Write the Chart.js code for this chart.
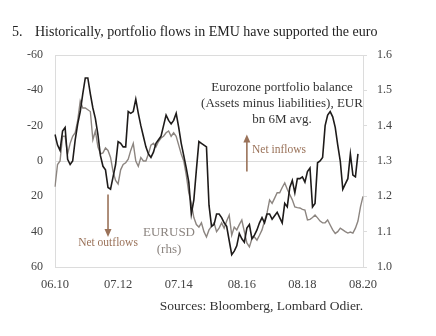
<!DOCTYPE html>
<html>
<head>
<meta charset="utf-8">
<script src="https://cdn.jsdelivr.net/npm/chart.js@4.4.0/dist/chart.umd.min.js"></script>
<style>
    html, body { margin: 0; padding: 0; background: #fff; }
    #wrap { width: 436px; height: 336px; }
</style>
</head>
<body>
<div id="wrap"><canvas id="flowsChart"></canvas></div>
<script>
// ----------------------------------------------------------------------
// Data (monthly, 06.2010 - 08.2020)
// ----------------------------------------------------------------------
const tickLabels = ['06.10', '07.12', '07.14', '08.16', '08.18', '08.20'];

// month labels MM.YY
const months = [];
for (let y = 2010, m = 6; y < 2020 || (y === 2020 && m <= 8); m++) {
    if (m > 12) { m = 1; y++; }
    if (y === 2020 && m > 8) break;
    months.push(String(m).padStart(2, '0') + '.' + String(y).slice(2));
}

// Eurozone portfolio balance, EUR bn 6M avg (lhs, inverted)
const portfolioBalance = [
    -15, -9, -6, -17, -19, -1, 2, 0, -12, -21,
    -28, -38, -47, -47, -38, -30, -24, -15, -3, 3,
    5, 15, 16, 9, 2, -11, -10, -8, -8, -28,
    -27, -28, -35, -27, -20, -14, -8, -4, -2, -5,
    -10, -12, -14, -20, -26, -23, -21, -23, -27, -19,
    -10, -3, 4, 12, 30, 22, 5, -11, -10, -9,
    -8, 25, 37, 36, 30, 30, 32, 35, 37, 45,
    53, 51, 48, 41, 44, 46, 38, 36, 44, 42,
    39, 35, 32, 35, 30, 30, 33, 31, 29, 32,
    35, 24, 26, 15, 11, 18, 10, 10, 9, 12,
    6, 4, 26, 24, 1, 0, -2, -20, -26, -28,
    -25, -19, -9, 0, 16, 13, 10, -4, 8, 9,
    -4, null, null
];

// EURUSD (rhs)
const eurusd = [
    1.227, 1.29, 1.30, 1.37, 1.37, 1.32, 1.35, 1.37, 1.38, 1.415,
    1.47, 1.45, 1.45, 1.445, 1.44, 1.36, 1.385, 1.34, 1.32, 1.323,
    1.337, 1.33, 1.31, 1.27, 1.245, 1.235, 1.275, 1.29, 1.295, 1.305,
    1.33, 1.35, 1.30, 1.285, 1.31, 1.30, 1.30, 1.32, 1.345, 1.35,
    1.34, 1.355, 1.365, 1.37, 1.38, 1.385, 1.37, 1.38, 1.37, 1.345,
    1.32, 1.30, 1.26, 1.21, 1.18, 1.14, 1.12, 1.113, 1.125, 1.10,
    1.085, 1.105, 1.115, 1.125, 1.10, 1.11, 1.125, 1.11, 1.13, 1.147,
    1.09, 1.113, 1.105, 1.12, 1.133, 1.10, 1.068, 1.057, 1.08, 1.085,
    1.076, 1.09, 1.105, 1.13, 1.153, 1.19, 1.18, 1.195, 1.21, 1.21,
    1.225, 1.238, 1.22, 1.205, 1.19, 1.17, 1.168, 1.167, 1.163, 1.161,
    1.133, 1.135, 1.14, 1.147, 1.139, 1.13, 1.125, 1.125, 1.133, 1.119,
    1.105, 1.095, 1.10, 1.11, 1.105, 1.10, 1.096, 1.099, 1.096, 1.11,
    1.13, 1.17, 1.20
];

const SERIF = '"Liberation Serif", "DejaVu Serif", serif';
const BROWN = '#9a7259';
const AXIS_GREY = '#dcdcdc';

// ----------------------------------------------------------------------
// Texts and arrows drawn on top of the chart
// ----------------------------------------------------------------------
const annotations = {
    id: 'annotations',
    afterDraw(chart) {
        const ctx = chart.ctx;
        const x = chart.scales.x;
        const yL = chart.scales.yL;
        ctx.save();

        // title
        ctx.fillStyle = '#222';
        ctx.font = '14px ' + SERIF;
        ctx.textBaseline = 'middle';
        ctx.textAlign = 'left';
        ctx.fillText('5.', 12, 32);
        ctx.fillText('Historically, portfolio flows in EMU have supported the euro', 35, 32);

        // source
        ctx.font = '13.5px ' + SERIF;
        ctx.textAlign = 'right';
        ctx.fillStyle = '#333';
        ctx.fillText('Sources: Bloomberg, Lombard Odier.', 363, 306);

        // series label (lhs)
        ctx.textAlign = 'center';
        ctx.font = '13px ' + SERIF;
        ctx.fillStyle = '#333';
        ctx.fillText('Eurozone portfolio balance', 282, 88);
        ctx.fillText('(Assets minus liabilities), EUR', 282, 104);
        ctx.fillText('bn 6M avg.', 282, 120);

        // series label (rhs)
        ctx.fillStyle = '#8c8580';
        ctx.fillText('EURUSD', 169, 233);
        ctx.fillText('(rhs)', 169, 250);

        // arrows
        const arrow = (px, fromV, toV) => {
            const y0 = yL.getPixelForValue(fromV);
            const y1 = yL.getPixelForValue(toV);
            const dir = y1 < y0 ? -1 : 1;
            ctx.strokeStyle = BROWN;
            ctx.fillStyle = BROWN;
            ctx.lineWidth = 1.6;
            ctx.beginPath();
            ctx.moveTo(px, y0);
            ctx.lineTo(px, y1 - dir * 6);
            ctx.stroke();
            ctx.beginPath();
            ctx.moveTo(px, y1);
            ctx.lineTo(px - 3.5, y1 - dir * 8);
            ctx.lineTo(px + 3.5, y1 - dir * 8);
            ctx.closePath();
            ctx.fill();
        };
        arrow(x.getPixelForValue(76), 6, -15);
        arrow(x.getPixelForValue(21), 19, 43);

        ctx.font = '11.5px ' + SERIF;
        ctx.fillStyle = BROWN;
        ctx.textAlign = 'left';
        ctx.fillText('Net inflows', 252, 150);
        ctx.textAlign = 'center';
        ctx.fillText('Net outflows', 108, 243);

        ctx.restore();
    }
};

// ----------------------------------------------------------------------
// Chart
// ----------------------------------------------------------------------
const ctxFlows = document.getElementById('flowsChart');

new Chart(ctxFlows, {
    type: 'line',
    data: {
        labels: months,
        datasets: [{
            label: 'Eurozone portfolio balance',
            data: portfolioBalance,
            yAxisID: 'yL',
            borderColor: '#1e1b1a',
            borderWidth: 1.6,
            pointRadius: 0,
            tension: 0,
            spanGaps: false
        }, {
            label: 'EURUSD (rhs)',
            data: eurusd,
            yAxisID: 'yR',
            borderColor: '#8c8580',
            borderWidth: 1.4,
            pointRadius: 0,
            tension: 0
        }]
    },
    options: {
        responsive: true,
        maintainAspectRatio: false,
        animation: false,
        layout: { padding: { top: 55, left: 0, right: 0, bottom: 0 } },
        plugins: {
            legend: { display: false },
            title: { display: false },
            tooltip: { enabled: false }
        },
        scales: {
            x: {
                type: 'category',
                offset: false,
                afterFit: (s) => { s.height = 69; },
                grid: { display: false, drawTicks: false },
                border: { display: true, color: AXIS_GREY, width: 1 },
                ticks: {
                    autoSkip: false,
                    maxRotation: 0,
                    padding: 10,
                    color: '#444',
                    font: { family: SERIF, size: 12.5 },
                    callback: function (v, i) {
                        const lab = this.getLabelForValue(v);
                        return tickLabels.includes(lab) ? lab : null;
                    }
                }
            },
            yL: {
                position: 'left',
                reverse: true,
                min: -60,
                max: 60,
                afterFit: (s) => { s.width = 55; },
                border: { display: true, color: AXIS_GREY, width: 1 },
                grid: {
                    drawTicks: false,
                    color: (c) => (c.tick && [0, -60, 60].includes(c.tick.value)) ? AXIS_GREY : 'rgba(0,0,0,0)'
                },
                ticks: {
                    stepSize: 20,
                    padding: 12,
                    color: '#444',
                    font: { family: SERIF, size: 12 }
                }
            },
            yR: {
                position: 'right',
                min: 1.0,
                max: 1.6,
                afterFit: (s) => { s.width = 73; },
                border: { display: true, color: AXIS_GREY, width: 1 },
                grid: {
                    drawOnChartArea: false,
                    drawTicks: true,
                    tickLength: 4,
                    color: AXIS_GREY
                },
                ticks: {
                    stepSize: 0.1,
                    padding: 10,
                    color: '#444',
                    font: { family: SERIF, size: 12 },
                    callback: (v) => Number(v).toFixed(1)
                }
            }
        }
    },
    plugins: [annotations]
});
</script>
</body>
</html>
